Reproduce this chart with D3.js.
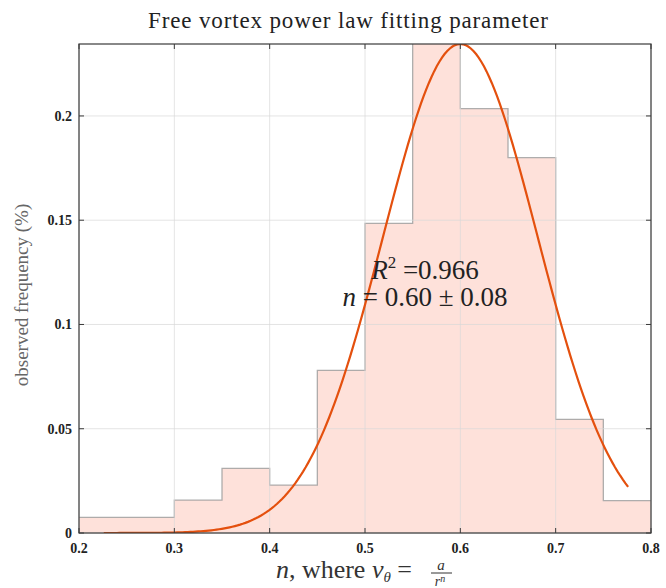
<!doctype html>
<html lang="en">
<head>
  <meta charset="utf-8">
  <title>Free vortex power law fitting parameter</title>
  <script src="https://d3js.org/d3.v7.min.js"></script>
  <style>
    body { margin: 0; background: #fff; }
  </style>
</head>
<body>
<svg id="chart" width="666" height="588"></svg>
<script>
// histogram bins (left edges, width 0.05) and observed frequency
var binEdges = [0.20, 0.25, 0.30, 0.35, 0.40, 0.45, 0.50, 0.55, 0.60, 0.65, 0.70, 0.75, 0.80];
var binFreq  = [0.0075, 0.0075, 0.0158, 0.031, 0.023, 0.078, 0.1485, 0.245, 0.2035, 0.180, 0.0545, 0.0155];

// fitted gaussian: peak, mean, sigma, and range of the drawn curve
var fitPeak = 0.2345, fitMean = 0.60, fitSigma = 0.081;
var fitRange = [0.226, 0.776];

var xTicks = [0.2, 0.3, 0.4, 0.5, 0.6, 0.7, 0.8];
var yTicks = [0, 0.05, 0.1, 0.15, 0.2];

var svg = d3.select("#chart");
var mLeft = 79, mRight = 651, mTop = 44, mBottom = 533;

var x = d3.scaleLinear().domain([0.2, 0.8]).range([mLeft, mRight]);
var y = d3.scaleLinear().domain([0, 0.2345]).range([mBottom, mTop]);

svg.append("defs").append("clipPath").attr("id", "clip")
  .append("rect").attr("x", mLeft).attr("y", mTop)
  .attr("width", mRight - mLeft).attr("height", mBottom - mTop);

// histogram as a filled stairs shape
var steps = binFreq.map(function(v, i) { return [binEdges[i], v]; });
steps.push([binEdges[binEdges.length - 1], binFreq[binFreq.length - 1]]);

var hist = svg.append("g").attr("clip-path", "url(#clip)");
hist.append("path").datum(steps)
  .attr("d", d3.area().curve(d3.curveStepAfter)
    .x(function(d) { return x(d[0]); })
    .y0(y(0))
    .y1(function(d) { return y(d[1]); }))
  .attr("fill", "rgb(250,130,100)")
  .attr("fill-opacity", 0.24);

// grid
var grid = svg.append("g").attr("stroke", "#d8d8d8").attr("stroke-opacity", 0.7).attr("stroke-width", 1);
xTicks.forEach(function(t) {
  grid.append("line").attr("x1", x(t)).attr("x2", x(t)).attr("y1", mTop).attr("y2", mBottom);
});
yTicks.forEach(function(t) {
  grid.append("line").attr("x1", mLeft).attr("x2", mRight).attr("y1", y(t)).attr("y2", y(t));
});

hist.append("path").datum(steps)
  .attr("d", d3.line().curve(d3.curveStepAfter)
    .x(function(d) { return x(d[0]); })
    .y(function(d) { return y(d[1]); }))
  .attr("fill", "none")
  .attr("stroke", "#a0a0a0")
  .attr("stroke-opacity", 0.85)
  .attr("stroke-width", 1.3);

// fitted curve
var pts = d3.range(0, 201).map(function(i) {
  var n = fitRange[0] + (fitRange[1] - fitRange[0]) * i / 200;
  return [n, fitPeak * Math.exp(-0.5 * Math.pow((n - fitMean) / fitSigma, 2))];
});
svg.append("path").datum(pts)
  .attr("clip-path", "url(#clip)")
  .attr("d", d3.line().x(function(d) { return x(d[0]); }).y(function(d) { return y(d[1]); }))
  .attr("fill", "none")
  .attr("stroke", "#e4500e")
  .attr("stroke-width", 2.2);

// axes box and ticks
var axisColor = "#3a3a3a";
svg.append("rect").attr("x", mLeft).attr("y", mTop)
  .attr("width", mRight - mLeft).attr("height", mBottom - mTop)
  .attr("fill", "none").attr("stroke", axisColor).attr("stroke-width", 1.2);

var tk = svg.append("g").attr("stroke", axisColor).attr("stroke-width", 1);
xTicks.forEach(function(t) {
  tk.append("line").attr("x1", x(t)).attr("x2", x(t)).attr("y1", mBottom).attr("y2", mBottom - 5);
  tk.append("line").attr("x1", x(t)).attr("x2", x(t)).attr("y1", mTop).attr("y2", mTop + 5);
});
yTicks.forEach(function(t) {
  tk.append("line").attr("x1", mLeft).attr("x2", mLeft + 5).attr("y1", y(t)).attr("y2", y(t));
  tk.append("line").attr("x1", mRight).attr("x2", mRight - 5).attr("y1", y(t)).attr("y2", y(t));
});

var serif = "'Liberation Serif', 'Times New Roman', serif";

svg.append("g").selectAll("text").data(xTicks).enter().append("text")
  .attr("x", function(d) { return x(d); })
  .attr("y", 553)
  .attr("text-anchor", "middle")
  .attr("font-family", serif).attr("font-weight", "bold").attr("font-size", 14)
  .attr("fill", "#222")
  .text(function(d) { return d3.format(".1f")(d); });

svg.append("g").selectAll("text").data(yTicks).enter().append("text")
  .attr("x", 72)
  .attr("y", function(d) { return y(d) + 5; })
  .attr("text-anchor", "end")
  .attr("font-family", serif).attr("font-weight", "bold").attr("font-size", 14)
  .attr("fill", "#222")
  .text(function(d) { return d === 0 ? "0" : String(d); });

// title
svg.append("text").attr("x", 148).attr("y", 28)
  .attr("font-family", serif).attr("font-size", 23).attr("fill", "#222")
  .attr("textLength", 400).attr("lengthAdjust", "spacing")
  .text("Free vortex power law fitting parameter");

// y label
svg.append("text")
  .attr("transform", "translate(28,295) rotate(-90)")
  .attr("text-anchor", "middle")
  .attr("font-family", serif).attr("font-size", 19).attr("fill", "#666")
  .text("observed frequency (%)");

// x label: n, where v_theta = a / r^n
var xl = svg.append("g").attr("font-family", serif).attr("fill", "#333");
var xlab = xl.append("text").attr("x", 412).attr("y", 578).attr("text-anchor", "end").attr("font-size", 26);
xlab.append("tspan").attr("font-style", "italic").text("n");
xlab.append("tspan").text(", where ");
xlab.append("tspan").attr("font-style", "italic").text("v");
xlab.append("tspan").attr("font-style", "italic").attr("font-size", 15).attr("dy", 4).text("θ");
xlab.append("tspan").attr("dy", -4).text(" =");
xl.append("text").attr("x", 441).attr("y", 570).attr("text-anchor", "middle")
  .attr("font-size", 15).attr("font-style", "italic").text("a");
xl.append("line").attr("x1", 431).attr("x2", 452).attr("y1", 573).attr("y2", 573)
  .attr("stroke", "#333").attr("stroke-width", 1);
var den = xl.append("text").attr("x", 440).attr("y", 586).attr("text-anchor", "middle")
  .attr("font-size", 14).attr("font-style", "italic");
den.append("tspan").text("r");
den.append("tspan").attr("font-size", 10).attr("dy", -4).text("n");

// annotation
var ann = svg.append("g").attr("font-family", serif).attr("font-size", 27).attr("fill", "#222");
var a1 = ann.append("text").attr("x", 425).attr("y", 279).attr("text-anchor", "middle");
a1.append("tspan").attr("font-style", "italic").text("R");
a1.append("tspan").attr("font-size", 17).attr("dy", -11).text("2");
a1.append("tspan").attr("dy", 11).text(" =0.966");
var a2 = ann.append("text").attr("x", 425).attr("y", 306).attr("text-anchor", "middle");
a2.append("tspan").attr("font-style", "italic").text("n");
a2.append("tspan").text(" = 0.60 ± 0.08");
</script>
</body>
</html>
